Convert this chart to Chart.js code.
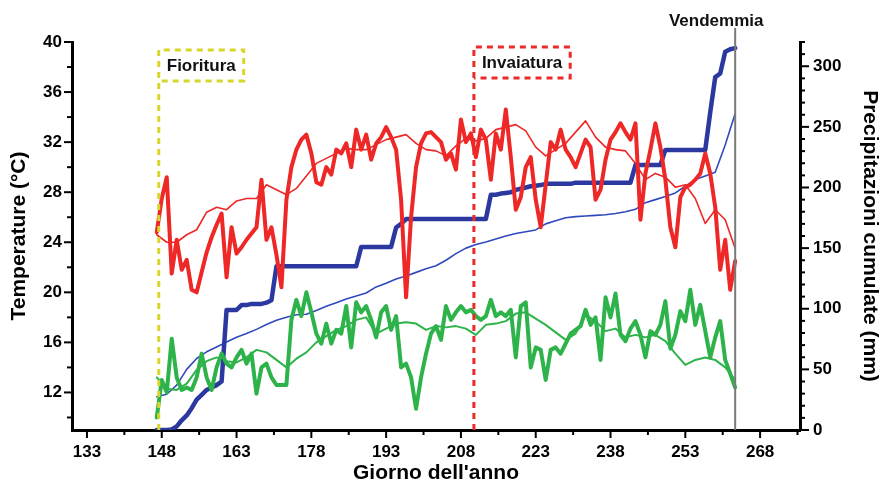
<!DOCTYPE html>
<html lang="it">
<head>
<meta charset="utf-8">
<title>Temperature e precipitazioni</title>
<script src="https://cdn.jsdelivr.net/npm/chart.js@4.4.0/dist/chart.umd.min.js"></script>
<style>
    html, body { margin: 0; padding: 0; background: #fff; }
    #wrap { width: 882px; height: 484px; position: relative; }
</style>
</head>
<body>
<div id="wrap"><canvas id="meteoChart"></canvas></div>
<script>
// Giorni dell'anno (serie dell'annata, dato giornaliero)
const days = [
    147, 148, 149, 150, 151, 152, 153, 154, 155, 156,
    157, 158, 159, 160, 161, 162, 163, 164, 165, 166,
    167, 168, 169, 170, 171, 172, 173, 174, 175, 176,
    177, 178, 179, 180, 181, 182, 183, 184, 185, 186,
    187, 188, 189, 190, 191, 192, 193, 194, 195, 196,
    197, 198, 199, 200, 201, 202, 203, 204, 205, 206,
    207, 208, 209, 210, 211, 212, 213, 214, 215, 216,
    217, 218, 219, 220, 221, 222, 223, 224, 225, 226,
    227, 228, 229, 230, 231, 232, 233, 234, 235, 236,
    237, 238, 239, 240, 241, 242, 243, 244, 245, 246,
    247, 248, 249, 250, 251, 252, 253, 254, 255, 256,
    257, 258, 259, 260, 261, 262, 263
];

// Temperatura massima dell'annata (°C)
const tmaxYear = [
    24.8, 27.5, 29.2, 21.5, 24.2, 21.8, 22.6, 20.2, 20.0, 21.6,
    23.2, 24.4, 25.4, 26.3, 21.2, 25.2, 23.1, 23.6, 24.2, 24.7,
    25.2, 29.0, 24.2, 25.2, 23.0, 20.4, 27.4, 30.0, 31.4, 32.2,
    32.6, 31.1, 28.8, 28.6, 30.0, 29.4, 31.4, 31.1, 31.9, 30.0,
    33.0, 31.4, 32.6, 30.6, 31.9, 32.4, 33.2, 32.4, 31.4, 27.4,
    19.6, 26.0, 30.0, 31.9, 32.7, 32.8, 32.4, 32.0, 30.6, 31.1,
    29.8, 33.8, 32.0, 32.7, 30.8, 33.0, 32.2, 29.0, 32.7, 31.4,
    34.6, 30.8, 26.6, 27.6, 30.0, 30.8, 27.4, 25.2, 28.6, 32.0,
    31.4, 33.0, 31.4, 30.8, 30.0, 31.1, 32.2, 31.6, 27.4, 28.2,
    30.6, 32.2, 32.8, 33.5, 32.8, 32.2, 33.5, 25.8, 29.5, 31.4,
    33.5, 31.6, 29.0, 25.2, 23.6, 27.6, 28.4, 28.6, 29.0, 29.5,
    31.1, 29.5, 26.8, 21.8, 24.2, 20.2, 22.5
];

// Temperatura minima dell'annata (°C)
const tminYear = [
    10.0, 13.0, 12.0, 16.3, 13.2, 12.2, 12.4, 12.2, 13.2, 15.1,
    13.2, 12.2, 14.0, 15.1, 14.3, 14.0, 14.8, 15.4, 14.3, 15.1,
    11.9, 14.0, 14.3, 13.2, 12.6, 12.6, 12.6, 17.8, 19.4, 18.1,
    20.0, 18.4, 16.7, 15.9, 17.5, 15.9, 17.0, 16.7, 18.9, 15.6,
    19.2, 18.4, 18.9, 17.8, 16.4, 18.4, 18.9, 17.0, 18.1, 14.0,
    14.3, 13.2, 10.7, 13.2, 15.1, 16.7, 17.3, 16.2, 18.9, 17.8,
    18.4, 18.9, 18.4, 18.6, 18.1, 17.8, 18.1, 19.4, 18.1, 18.4,
    18.1, 18.6, 14.8, 18.9, 19.2, 14.0, 15.6, 15.4, 13.0, 15.4,
    15.6, 15.1, 15.9, 16.7, 17.0, 17.3, 18.6, 17.4, 18.0, 14.6,
    19.6, 18.0, 19.9, 16.6, 16.1, 17.1, 17.7, 16.6, 14.8, 16.9,
    16.6, 17.4, 19.3, 15.5, 16.6, 18.5, 17.7, 20.2, 17.4, 19.0,
    16.9, 14.8, 16.4, 17.7, 14.6, 13.5, 12.4
];

// Precipitazioni cumulate dell'annata (mm)
const rainYear = [
    0, 0, 0, 0.5, 3, 8, 12, 18, 25, 29,
    33, 35, 37, 40, 99, 99, 99, 103, 103, 104,
    104, 104, 105, 107, 135, 135, 135, 135, 135, 135,
    135, 135, 135, 135, 135, 135, 135, 135, 135, 135,
    135, 151, 151, 151, 151, 151, 151, 151, 167, 170,
    174, 174, 174, 174, 174, 174, 174, 174, 174, 174,
    174, 174, 174, 174, 174, 174, 174, 194, 194, 195,
    195.5, 196, 198, 199, 200, 201, 201.5, 202, 203, 203,
    203, 203, 203, 203, 204, 204, 204, 204, 204, 204,
    204, 204, 204, 204, 204, 204, 218.5, 218.5, 218.5, 218.5,
    218.5, 218.5, 231, 231, 231, 231, 231, 231, 231, 231,
    231, 262, 291, 294, 312, 314, 315
];

// Medie pluriennali (un valore ogni due giorni)
const avgDays = [
    147, 149, 151, 153, 155, 157, 159, 161, 163, 165,
    167, 169, 171, 173, 175, 177, 179, 181, 183, 185,
    187, 189, 191, 193, 195, 197, 199, 201, 203, 205,
    207, 209, 211, 213, 215, 217, 219, 221, 223, 225,
    227, 229, 231, 233, 235, 237, 239, 241, 243, 245,
    247, 249, 251, 253, 255, 257, 259, 261, 263
];

const tmaxAvg = [
    24.6, 24.0, 24.0, 24.6, 25.0, 26.4, 26.8, 26.6, 27.3, 27.5,
    27.5, 28.6, 28.2, 27.8, 28.3, 29.3, 30.3, 30.7, 31.1, 31.5,
    31.4, 31.4, 31.8, 32.2, 32.4, 32.6, 31.9, 31.4, 31.3, 30.9,
    31.7, 32.3, 32.1, 32.3, 33.0, 33.2, 33.4, 32.9, 31.6, 30.9,
    31.4, 31.9, 32.8, 33.7, 32.4, 31.6, 31.4, 31.3, 30.3, 29.0,
    29.5, 29.2, 28.4, 28.6, 27.5, 25.5, 26.6, 25.8, 23.5
];

const tminAvg = [
    13.2, 12.3, 12.2, 12.7, 13.8, 14.5, 14.8, 14.5, 14.4, 14.8,
    15.4, 15.2, 14.6, 14.0, 14.7, 15.2, 16.0, 16.5, 17.0, 17.3,
    17.8, 18.0, 16.7, 17.1, 17.5, 17.6, 17.5, 17.0, 17.3, 17.2,
    17.3, 17.1, 16.6, 17.4, 17.5, 17.7, 18.3, 18.4, 17.9, 17.4,
    16.8, 16.2, 16.7, 18.2, 17.7, 16.9, 17.1, 16.4, 16.6, 16.4,
    16.6, 16.1, 15.1, 14.2, 14.6, 14.8, 14.6, 14.0, 13.0
];

const rainAvg = [
    27.5, 29.5, 37, 50, 59, 64.5, 68.5, 72.5, 76.5, 79.5,
    83, 87, 90.5, 93, 95, 95.5, 98.5, 102, 105, 108,
    110.5, 113, 118, 121, 124.5, 127, 130, 133, 135.5, 140,
    145.5, 150, 153, 155, 157.5, 160, 162, 163.5, 165, 170,
    172.5, 175, 176, 176.5, 177, 177.5, 178.5, 180, 182, 187.5,
    190, 192.5, 195.5, 201, 206.5, 209.5, 212.5, 235, 261
];

// Tick labels
const dayTicks = [133, 148, 163, 178, 193, 208, 223, 238, 253, 268];
const tempTicks = [12, 16, 20, 24, 28, 32, 36, 40];
const rainTicks = [0, 50, 100, 150, 200, 250, 300];

// Fasi fenologiche (giorno dell'anno)
const phases = [
    { label: 'Fioritura', day: 147.4, color: '#d8d62a', dashed: true },
    { label: 'Invaiatura', day: 210.6, color: '#ec2a2a', dashed: true },
    { label: 'Vendemmia', day: 263, color: '#7a7a7a', dashed: false }
];

const FONT = "'Liberation Sans', Arial, Helvetica, sans-serif";
const RED = '#ee2727';
const GREEN = '#2db34a';
const BLUE_DARK = '#2b389f';
const BLUE = '#3049bd';

const toPoints = (xs, ys) => xs.map((d, i) => ({ x: d, y: ys[i] }));

// Minor/major tick marks drawn on each axis, outward
const axisTicksPlugin = {
    id: 'axisTicks',
    afterDraw(chart) {
        const { ctx, chartArea } = chart;
        const { x, y, y1 } = chart.scales;
        ctx.save();
        ctx.strokeStyle = '#000';
        ctx.lineWidth = 2;
        const seg = (x0, y0, x2, y2) => {
            ctx.beginPath();
            ctx.moveTo(x0, y0);
            ctx.lineTo(x2, y2);
            ctx.stroke();
        };

        // x axis
        dayTicks.forEach(v => {
            const px = x.getPixelForValue(v);
            seg(px, chartArea.bottom, px, chartArea.bottom + 8);
        });
        for (let v = dayTicks[0] + 7.5; v <= x.max; v += 15) {
            const px = x.getPixelForValue(v);
            seg(px, chartArea.bottom, px, chartArea.bottom + 5);
        }

        // left axis
        tempTicks.forEach(v => {
            const py = y.getPixelForValue(v);
            seg(chartArea.left, py, chartArea.left - 8, py);
        });
        for (let v = 10; v < y.max; v += 4) {
            const py = y.getPixelForValue(v);
            seg(chartArea.left, py, chartArea.left - 5, py);
        }

        // right axis
        rainTicks.forEach(v => {
            const py = y1.getPixelForValue(v);
            seg(chartArea.right, py, chartArea.right + 9, py);
        });
        for (let v = 10; v <= y1.max; v += 10) {
            if (v % 50 === 0) continue;
            const py = y1.getPixelForValue(v);
            seg(chartArea.right, py, chartArea.right + 5, py);
        }
        ctx.restore();
    }
};

// Vertical markers with the phase labels
const phasesPlugin = {
    id: 'phases',
    afterDatasetsDraw(chart) {
        const { ctx, chartArea } = chart;
        const xScale = chart.scales.x;
        ctx.save();
        ctx.font = `bold 17px ${FONT}`;
        ctx.textBaseline = 'middle';
        ctx.textAlign = 'center';

        phases.forEach(p => {
            const px = xScale.getPixelForValue(p.day);
            ctx.strokeStyle = p.color;

            if (p.dashed) {
                const textW = ctx.measureText(p.label).width;
                const boxTop = p.label === 'Fioritura' ? chartArea.top + 8 : chartArea.top + 5;
                const boxW = textW + 16;
                const boxH = 31;
                ctx.lineWidth = 3;
                ctx.setLineDash([6, 5]);
                ctx.beginPath();
                ctx.moveTo(px, chartArea.bottom);
                ctx.lineTo(px, boxTop);
                ctx.lineTo(px + boxW, boxTop);
                ctx.lineTo(px + boxW, boxTop + boxH);
                ctx.lineTo(px, boxTop + boxH);
                ctx.stroke();
                ctx.setLineDash([]);
                ctx.fillStyle = '#111';
                ctx.fillText(p.label, px + boxW / 2, boxTop + boxH / 2 + 1);
            } else {
                ctx.lineWidth = 2;
                ctx.beginPath();
                ctx.moveTo(px, chartArea.bottom);
                ctx.lineTo(px, chartArea.top - 14);
                ctx.stroke();
                ctx.fillStyle = '#111';
                ctx.fillText(p.label, px - 19, chartArea.top - 21);
            }
        });
        ctx.restore();
    }
};

const tickFont = { family: FONT, size: 17, weight: 'bold' };
const titleFont = { family: FONT, size: 21, weight: 'bold', lineHeight: 1 };

new Chart(document.getElementById('meteoChart'), {
    type: 'line',
    data: {
        datasets: [
            { label: 'Tmax annata', data: toPoints(days, tmaxYear), borderColor: RED, borderWidth: 4, yAxisID: 'y' },
            { label: 'Tmin annata', data: toPoints(days, tminYear), borderColor: GREEN, borderWidth: 4, yAxisID: 'y' },
            { label: 'Pioggia annata', data: toPoints(days, rainYear), borderColor: BLUE_DARK, borderWidth: 4.5, yAxisID: 'y1' },
            { label: 'Tmax media', data: toPoints(avgDays, tmaxAvg), borderColor: RED, borderWidth: 1.6, yAxisID: 'y' },
            { label: 'Tmin media', data: toPoints(avgDays, tminAvg), borderColor: GREEN, borderWidth: 2, yAxisID: 'y' },
            { label: 'Pioggia media', data: toPoints(avgDays, rainAvg), borderColor: BLUE, borderWidth: 1.6, yAxisID: 'y1' }
        ]
    },
    options: {
        responsive: true,
        maintainAspectRatio: false,
        animation: false,
        layout: { padding: { top: 42, left: 0, right: 0, bottom: 0 } },
        elements: {
            point: { radius: 0 },
            line: { tension: 0, fill: false, borderCapStyle: 'round', borderJoinStyle: 'round' }
        },
        plugins: {
            legend: { display: false },
            tooltip: { enabled: false }
        },
        scales: {
            x: {
                type: 'linear',
                min: 130,
                max: 276,
                afterBuildTicks: (axis) => { axis.ticks = dayTicks.map(v => ({ value: v })); },
                afterFit: (axis) => { axis.height = 54; },
                grid: { display: false, drawTicks: false },
                border: { display: true, color: '#000', width: 3 },
                ticks: { color: '#000', font: tickFont, padding: 12, autoSkip: false, maxRotation: 0 },
                title: { display: true, text: "Giorno dell'anno", color: '#000', font: titleFont, padding: { top: 0, bottom: 0 } }
            },
            y: {
                type: 'linear',
                position: 'left',
                min: 9,
                max: 40,
                afterBuildTicks: (axis) => { axis.ticks = tempTicks.map(v => ({ value: v })); },
                afterFit: (axis) => { axis.width = 72; },
                grid: { display: false, drawTicks: false },
                border: { display: true, color: '#000', width: 3 },
                ticks: { color: '#000', font: tickFont, padding: 10 },
                title: { display: true, text: 'Temperature (°C)', color: '#000', font: titleFont, padding: { top: 9, bottom: 0 } }
            },
            y1: {
                type: 'linear',
                position: 'right',
                min: 0,
                max: 320,
                afterBuildTicks: (axis) => { axis.ticks = rainTicks.map(v => ({ value: v })); },
                afterFit: (axis) => { axis.width = 82; },
                grid: { display: false, drawTicks: false },
                border: { display: true, color: '#000', width: 3 },
                ticks: { color: '#000', font: tickFont, padding: 13 },
                title: { display: true, text: 'Precipitazioni cumulate (mm)', color: '#000', font: titleFont, padding: { top: 2, bottom: 0 } }
            }
        }
    },
    plugins: [axisTicksPlugin, phasesPlugin]
});
</script>
</body>
</html>
